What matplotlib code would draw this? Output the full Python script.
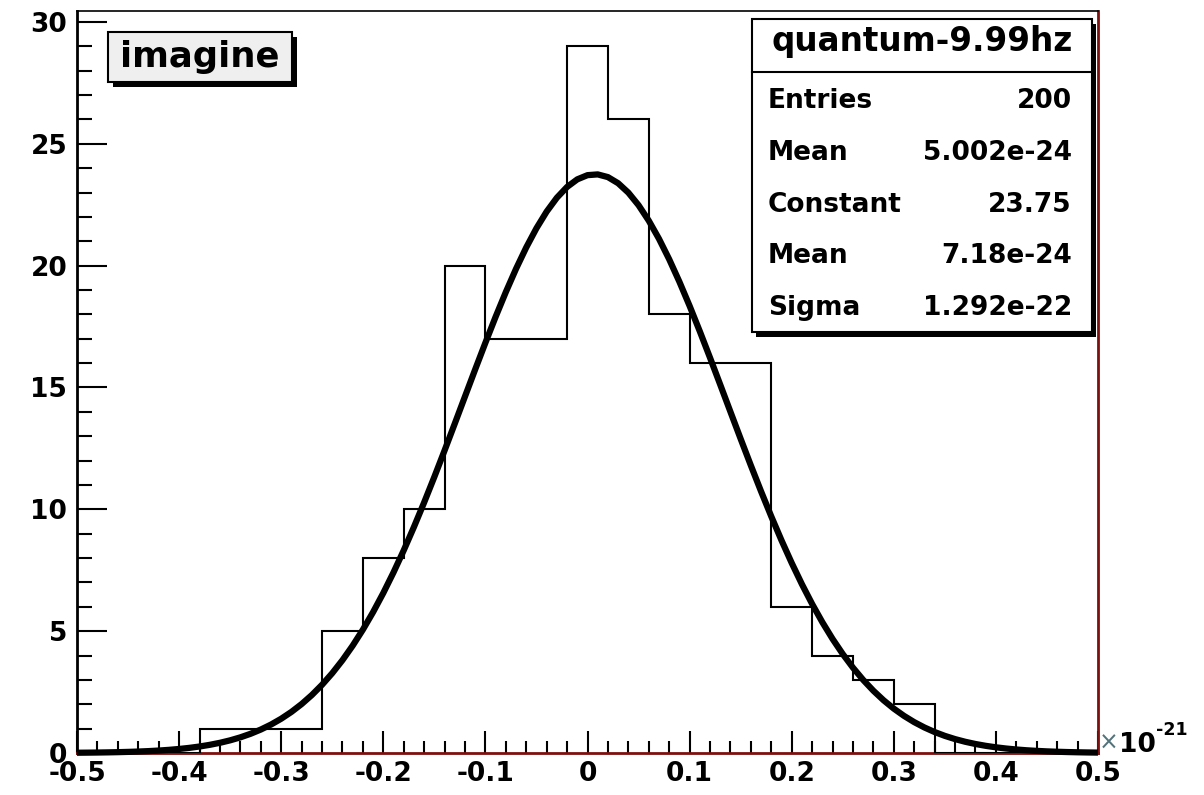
import numpy as np
import matplotlib
matplotlib.use("Agg")
import matplotlib.pyplot as plt
from matplotlib.patches import Rectangle
from matplotlib.lines import Line2D
from matplotlib.ticker import FixedLocator, MultipleLocator, FuncFormatter

# ---- data (x in units of 1e-21) ----
x_scale = 1e-21
bin_edges = np.round(np.linspace(-0.5, 0.5, 26), 2)
counts = [0, 0, 0, 1, 1, 1, 5, 8, 10, 20, 17, 17, 29, 26,
          18, 16, 16, 6, 4, 3, 2, 0, 0, 0, 0]

hist_title = "quantum-9.99hz"
hist_mean = 5.002e-24
fit_constant = 23.75
fit_mean = 7.18e-24
fit_sigma = 1.292e-22

x_ticks = [-0.5, -0.4, -0.3, -0.2, -0.1, 0, 0.1, 0.2, 0.3, 0.4, 0.5]
y_ticks = [0, 5, 10, 15, 20, 25, 30]
pad_title = "imagine"

stat_names = ["Entries", "Mean", "Constant", "Mean", "Sigma"]
stat_values = [f"{sum(counts)}", f"{hist_mean:.4g}", f"{fit_constant:.4g}",
               f"{fit_mean:.4g}", f"{fit_sigma:.4g}"]

# ---- figure ----
W, H = 1204, 795
plt.rcParams["axes.unicode_minus"] = False
FONT = "DejaVu Sans"

fig = plt.figure(figsize=(W / 100, H / 100), dpi=100)
fig.patch.set_facecolor("white")


def fx(x):
    return x / W


def fy(y):
    return 1 - y / H


ax_l, ax_r, ax_t, ax_b = 77, 1098, 11, 753
ax = fig.add_axes([fx(ax_l), fy(ax_b), (ax_r - ax_l) / W, (ax_b - ax_t) / H])
ax.set_xlim(-0.5, 0.5)
ax.set_ylim(0, max(counts) * 1.05)

# frame
for side in ("left", "top"):
    ax.spines[side].set_color("black")
ax.spines["left"].set_linewidth(2.0)
ax.spines["top"].set_linewidth(1.2)
for side in ("right", "bottom"):
    ax.spines[side].set_color("#7d0f0f")
    ax.spines[side].set_linewidth(2.0)

# histogram and gaussian fit
ax.stairs(counts, bin_edges, color="black", linewidth=1.5, baseline=0, zorder=3)
xf = np.linspace(-0.5, 0.5, 101)
yf = fit_constant * np.exp(-0.5 * ((xf * x_scale - fit_mean) / fit_sigma) ** 2)
ax.plot(xf, yf, color="black", linewidth=4.5, zorder=4, clip_on=False,
        solid_capstyle="butt", solid_joinstyle="round")

# ticks
ax.xaxis.set_major_locator(FixedLocator(x_ticks))
ax.xaxis.set_minor_locator(MultipleLocator(0.02))
ax.yaxis.set_major_locator(FixedLocator(y_ticks))
ax.yaxis.set_minor_locator(MultipleLocator(1))
ax.xaxis.set_major_formatter(FuncFormatter(lambda v, p: f"{round(v, 2) + 0:g}"))
ax.yaxis.set_major_formatter(FuncFormatter(lambda v, p: f"{round(v) + 0:g}"))

ax.tick_params(axis="x", which="major", direction="in", length=16, width=1.5,
               pad=6, top=False, bottom=True, labelsize=19)
ax.tick_params(axis="x", which="minor", direction="in", length=8.5, width=1.5,
               top=False, bottom=True)
ax.tick_params(axis="y", which="major", direction="in", length=21.5, width=1.5,
               pad=7, left=True, right=False, labelsize=19)
ax.tick_params(axis="y", which="minor", direction="in", length=10.5, width=1.5,
               left=True, right=False)
for lab in ax.get_xticklabels() + ax.get_yticklabels():
    lab.set_fontfamily(FONT)
    lab.set_fontweight("bold")

# axis exponent
fig.text(fx(1099), fy(743), "\u00d7", fontsize=17, family=FONT, color="#52737a",
         ha="left", va="center")
fig.text(fx(1119), fy(752), "10", fontsize=19, family=FONT, fontweight="bold",
         ha="left", va="baseline")
fig.text(fx(1156), fy(735), "-21", fontsize=12.5, family=FONT, fontweight="bold",
         ha="left", va="baseline")


def box(x0, y0, x1, y1, face, shadow=(4, 5)):
    sx, sy = shadow
    fig.patches.append(Rectangle((fx(x0 + sx), fy(y1 + sy)), (x1 - x0) / W,
                                 (y1 - y0) / H, transform=fig.transFigure,
                                 facecolor="black", edgecolor="none", zorder=5))
    fig.patches.append(Rectangle((fx(x0), fy(y1)), (x1 - x0) / W, (y1 - y0) / H,
                                 transform=fig.transFigure, facecolor=face,
                                 edgecolor="black", linewidth=1.5, zorder=6))


# pad title
box(108, 32, 292, 82, "#efefef", shadow=(5, 5))
fig.text(fx(200), fy(66.5), pad_title, fontsize=25.5, family=FONT,
         fontweight="bold", ha="center", va="baseline", zorder=7)

# statistics box
sb_l, sb_r, sb_t, sb_b = 752, 1092, 19, 332
box(sb_l, sb_t, sb_r, sb_b, "white", shadow=(4, 5))
fig.lines.append(Line2D([fx(sb_l), fx(sb_r)], [fy(72), fy(72)],
                        transform=fig.transFigure, color="black",
                        linewidth=1.5, zorder=7))
fig.text(fx((sb_l + sb_r) / 2), fy(51), hist_title, fontsize=23.5, family=FONT,
         fontweight="bold", ha="center", va="baseline", zorder=7)
baselines = np.linspace(108, 315, len(stat_names))
for name, val, yb in zip(stat_names, stat_values, baselines):
    fig.text(fx(768), fy(yb), name, fontsize=19, family=FONT, fontweight="bold",
             ha="left", va="baseline", zorder=7)
    fig.text(fx(1072), fy(yb), val, fontsize=19, family=FONT, fontweight="bold",
             ha="right", va="baseline", zorder=7)

fig.savefig("out.png", dpi=100, facecolor="white")
